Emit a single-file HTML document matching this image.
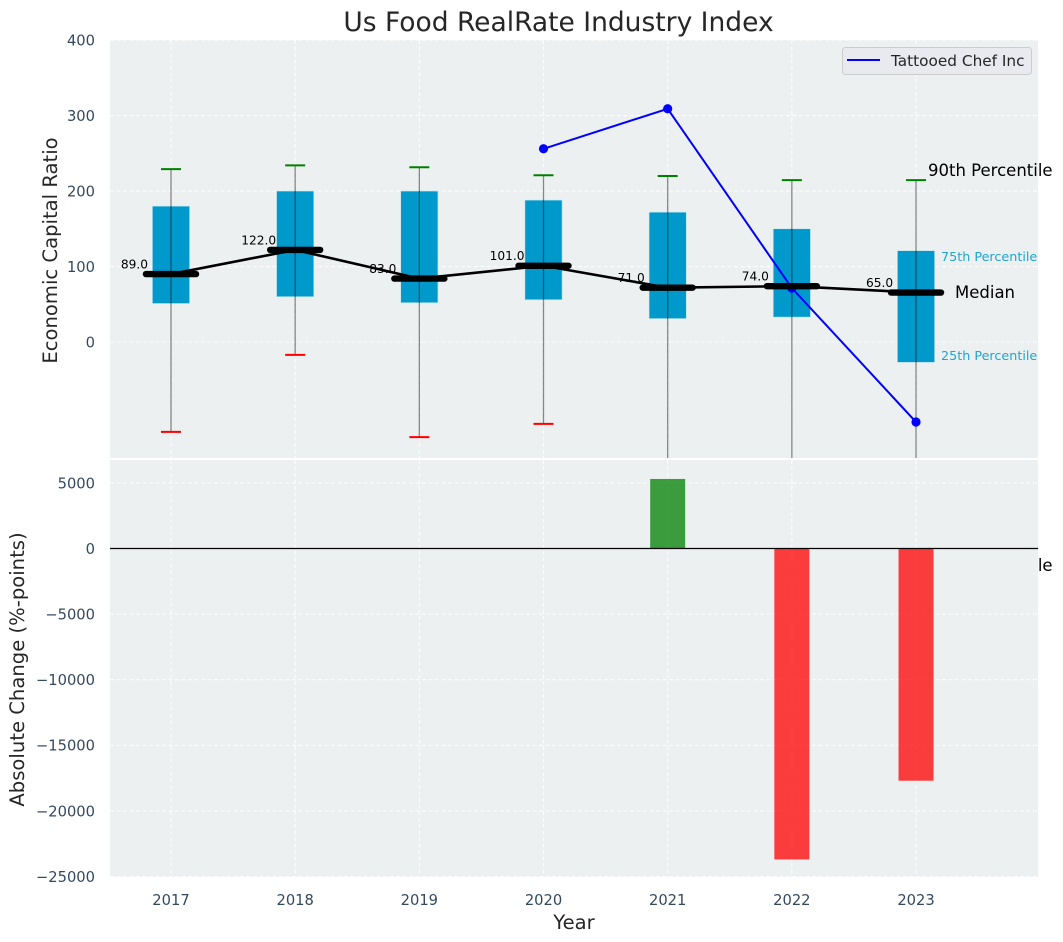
<!DOCTYPE html>
<html lang="en">
<head>
<meta charset="utf-8">
<title>Us Food RealRate Industry Index</title>
<style>
  html, body { margin: 0; padding: 0; background: #ffffff; }
  body { width: 1063px; height: 942px; overflow: hidden; }
  svg { display: block; font-family: "DejaVu Sans", "Liberation Sans", sans-serif; }
</style>
</head>
<body>
<svg id="chart" width="1063" height="942" viewBox="0 0 1063 942" xmlns="http://www.w3.org/2000/svg">
  <defs>
    <clipPath id="clip-top"><rect x="110" y="40" width="928" height="418"></rect></clipPath>
    <clipPath id="clip-bottom"><rect x="110" y="460" width="928" height="417"></rect></clipPath>
  </defs>
  <text x="558.5" y="31" font-size="26.5" fill="#262626" text-anchor="middle">Us Food RealRate Industry Index</text>
  <rect x="110" y="40" width="928" height="418" fill="#ecf0f1"></rect>
  <g id="top-grid"></g>
  <g id="top-marks" clip-path="url(#clip-top)"></g>
  <g id="top-annotations"></g>
  <text x="928" y="176" font-size="16.5" fill="#000000">90th Percentile</text>
  <text x="941" y="261" font-size="12.75" fill="#1fa5d0">75th Percentile</text>
  <text x="955" y="298" font-size="16.5" fill="#000000">Median</text>
  <text x="941" y="360" font-size="12.75" fill="#1fa5d0">25th Percentile</text>
  <text x="928" y="571" font-size="16.5" fill="#000000">10th Percentile</text>
  <g>
    <rect x="842.5" y="47.5" width="189" height="27" rx="3" fill="#e8eaef" stroke="#cccccc" stroke-width="1"></rect>
    <line x1="847" y1="60" x2="880" y2="60" stroke="#0000ff" stroke-width="2"></line>
    <text x="891" y="66" font-size="15.3" fill="#262626">Tattooed Chef Inc</text>
  </g>
  <rect x="110" y="460" width="928" height="417" fill="#ecf0f1"></rect>
  <g id="bottom-grid"></g>
  <g id="bottom-marks" clip-path="url(#clip-bottom)"></g>
  <g id="axis-labels"></g>
  <text transform="translate(57,250.5) rotate(-90)" font-size="19.6" fill="#262626" text-anchor="middle">Economic Capital Ratio</text>
  <text transform="translate(24,669.5) rotate(-90)" font-size="19.6" fill="#262626" text-anchor="middle">Absolute Change (%-points)</text>
  <text x="574" y="929" font-size="19.6" fill="#262626" text-anchor="middle">Year</text>
</svg>
<script>
const years = [2017, 2018, 2019, 2020, 2021, 2022, 2023];
const p90 = [229, 234, 231.5, 221, 220, 214.5, 214.5];
const p75 = [180, 200, 200, 188, 172, 150, 121];
const medianPos = [90, 122, 84, 101, 72, 74, 65.5];
const medianLabels = [89.0, 122.0, 83.0, 101.0, 71.0, 74.0, 65.0];
const p25 = [51, 60, 52, 56, 31, 33, -27];
const p10 = [-119, -17, -126, -108.5, -200, -200, -200];
const companyYears = [2020, 2021, 2022, 2023];
const companyValues = [256, 309, 71.5, -106];
const changeYears = [2021, 2022, 2023];
const changeValues = [5300, -23700, -17700];
const topTicks = [0, 100, 200, 300, 400];
const bottomTicks = [5000, 0, -5000, -10000, -15000, -20000, -25000];

const NS = 'http://www.w3.org/2000/svg';
const xScale = v => 171 + (v - 2017) * 124.17;
const topY = v => 342 - v * 0.7548;
const bottomY = v => 548.5 - v * 0.01312;
const topMarks = document.getElementById('top-marks');
const bottomMarks = document.getElementById('bottom-marks');
const topGrid = document.getElementById('top-grid');
const bottomGrid = document.getElementById('bottom-grid');
const tickLayer = document.getElementById('axis-labels');
const annotations = document.getElementById('top-annotations');

function make(parent, tag, attrs, text) {
  const el = document.createElementNS(NS, tag);
  Object.keys(attrs).forEach(k => el.setAttribute(k, attrs[k]));
  if (text !== undefined) el.textContent = text;
  parent.appendChild(el);
  return el;
}
function tickText(n) {
  return n < 0 ? '\u2212' + Math.abs(n) : String(n);
}
const gridStyle = { stroke: '#ffffff', 'stroke-width': 1.1, 'stroke-dasharray': '4 2.5', opacity: 0.85 };

years.forEach(y => {
  const a = make(topGrid, 'line', Object.assign({ x1: xScale(y), x2: xScale(y), y1: 40, y2: 458 }, gridStyle));
  
  
  const b = make(bottomGrid, 'line', Object.assign({ x1: xScale(y), x2: xScale(y), y1: 460, y2: 877 }, gridStyle));
  
  
  const t = make(tickLayer, 'text', { x: xScale(y), y: 905, 'font-size': 14.7, fill: '#34495e', 'text-anchor': 'middle' }, String(y));
  
  
});
topTicks.forEach(v => {
  const g = make(topGrid, 'line', Object.assign({ x1: 110, x2: 1038, y1: topY(v), y2: topY(v) }, gridStyle));
  
  
  const t = make(tickLayer, 'text', { x: 95, y: topY(v) + 5.4, 'font-size': 14.7, fill: '#34495e', 'text-anchor': 'end' }, tickText(v));
  
  
});
bottomTicks.forEach(v => {
  const g = make(bottomGrid, 'line', Object.assign({ x1: 110, x2: 1038, y1: bottomY(v), y2: bottomY(v) }, gridStyle));
  
  
  const t = make(tickLayer, 'text', { x: 95, y: bottomY(v) + 5.4, 'font-size': 14.7, fill: '#34495e', 'text-anchor': 'end' }, tickText(v));
  
  
});

/* percentile boxes */
years.forEach((y, i) => {
  const box = make(topMarks, 'rect', { x: xScale(y) - 18.6, y: topY(p75[i]), width: 37.2, height: topY(p25[i]) - topY(p75[i]), fill: '#0099cc', stroke: '#bfe3ef', 'stroke-width': 0.6 });
  
  
});
/* whiskers and caps */
years.forEach((y, i) => {
  const w = make(topMarks, 'line', { x1: xScale(y), x2: xScale(y), y1: topY(p90[i]), y2: topY(p10[i]), stroke: '#000000', 'stroke-opacity': 0.45, 'stroke-width': 1.3 });
  
  
  const hi = make(topMarks, 'line', { x1: xScale(y) - 10, x2: xScale(y) + 10, y1: topY(p90[i]), y2: topY(p90[i]), stroke: '#008000', 'stroke-width': 2 });
  
  
  const lo = make(topMarks, 'line', { x1: xScale(y) - 10, x2: xScale(y) + 10, y1: topY(p10[i]), y2: topY(p10[i]), stroke: '#ff0000', 'stroke-width': 2 });
  
  
});
/* company line */
const companyPath = make(topMarks, 'polyline', { points: companyYears.map((y, i) => xScale(y) + ',' + topY(companyValues[i])).join(' '), fill: 'none', stroke: '#0000ff', 'stroke-width': 2 });


companyYears.forEach((y, i) => {
  const dot = make(topMarks, 'circle', { cx: xScale(y), cy: topY(companyValues[i]), r: 4.6, fill: '#0000ff' });
  
  
});
/* median line */
const medianLine = make(topMarks, 'polyline', { points: years.map((y, i) => xScale(y) + ',' + topY(medianPos[i])).join(' '), fill: 'none', stroke: '#000000', 'stroke-width': 2.6 });


years.forEach((y, i) => {
  const m = make(topMarks, 'line', { x1: xScale(y) - 25, x2: xScale(y) + 25, y1: topY(medianPos[i]), y2: topY(medianPos[i]), stroke: '#000000', 'stroke-width': 6.4, 'stroke-linecap': 'round' });
  
  
  const t = make(annotations, 'text', { x: xScale(y) - 36.5, y: topY(medianPos[i]) - 5.6, 'font-size': 12.2, fill: '#000000', 'text-anchor': 'middle' }, medianLabels[i].toFixed(1));
  
  
});
/* change bars */
changeYears.forEach((y, i) => {
  const top = Math.min(bottomY(changeValues[i]), bottomY(0));
  const h = Math.abs(bottomY(changeValues[i]) - bottomY(0));
  const bar = make(bottomMarks, 'rect', { x: xScale(y) - 17.5, y: top, width: 35, height: h, fill: changeValues[i] >= 0 ? '#008000' : '#ff0000', 'fill-opacity': 0.75 });
  
  
});
const zero = make(bottomMarks, 'line', { x1: 110, x2: 1038, y1: bottomY(0), y2: bottomY(0), stroke: '#000000', 'stroke-width': 1.2 });


</script>
</body>
</html>
